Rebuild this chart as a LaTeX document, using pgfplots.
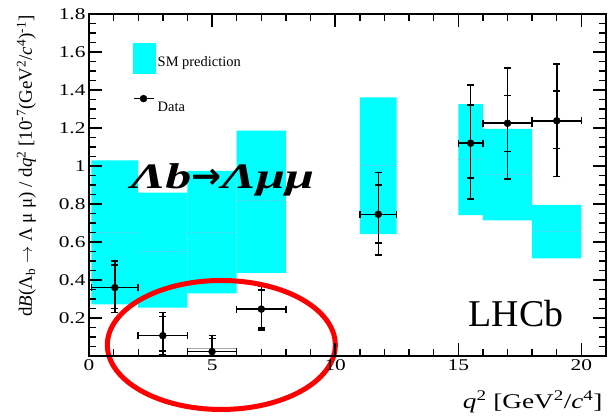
\documentclass[border=0pt]{standalone}
\usepackage{pgfplots}
\usepackage{pgfplotstable}
\pgfplotsset{compat=1.18}
\usepackage{fontspec}
\setmainfont{Liberation Serif}
\newfontfamily\stretchfont[FakeStretch=1.3]{Liberation Serif}
\newfontfamily\bigfont[FakeStretch=1.45]{Liberation Serif}
\newfontfamily\arrowfont{DejaVu Sans}

\pgfplotstableread{
x     y     xe    yp    ym    sp    sm
1.05  0.36  0.95  0.14  0.13  0.12  0.11
3.0   0.107 1     0.121 0.10  0.10  0.08
5.0   0.023 1     0.085 0.023 0.07  0.02
7.0   0.247 1     0.118 0.11  0.10  0.10
11.75 0.746 0.75  0.22  0.214 0.154 0.15
15.5  1.12  0.5   0.306 0.295 0.20  0.183
17.0  1.225 1     0.29  0.293 0.145 0.15
19.0  1.238 1     0.30  0.294 0.158 0.145
}\datatable

\pgfplotstableread{
x     y
0.1   0.649
2     0.649
nan   nan
2     0.553
4     0.553
nan   nan
4     0.649
6     0.649
nan   nan
6     0.817
8     0.817
nan   nan
11    1.005
12.5  1.005
nan   nan
15    1.035
16    1.035
nan   nan
16    0.956
18    0.956
nan   nan
18    0.658
20    0.658
}\smcentral

\definecolor{smcyan}{RGB}{0,255,255}
\definecolor{smdash}{RGB}{90,205,235}

\begin{document}
\begin{tikzpicture}
\begin{axis}[
  name=ax,
  scale only axis, width=517bp, height=342bp,
  xmin=0, xmax=21, ymin=0, ymax=1.8,
  axis on top, clip=false,
  xtick={0,5,10,15,20},
  minor xtick={0,1,...,21},
  ytick={0,0.2,0.4,0.6,0.8,1,1.2,1.4,1.6,1.8},
  yticklabels={,0.2,0.4,0.6,0.8,1,1.2,1.4,1.6,1.8},
  minor ytick={0,0.05,...,1.8},
  tick align=inside, tick pos=both,
  xticklabel pos=lower, yticklabel pos=left,
  major tick length=13bp, minor tick length=7bp,
  tick style={black, line width=1.4bp},
  axis line style={line width=1.8bp},
  /pgf/number format/assume math mode=true,
  ticklabel style={font=\stretchfont\fontsize{16.5}{16.5}\selectfont},
  xlabel={\textit{q}\textsuperscript{2} [GeV\textsuperscript{2}/\textit{c}\textsuperscript{4}]},
  xlabel style={font=\stretchfont\fontsize{21}{21}\selectfont, at={(axis description cs:1,0)}, anchor=base east, yshift=-52bp},
  ylabel={d\textit{B}(Λ\textsubscript{b} $\rightarrow$ Λ μ μ) / d\textit{q}\textsuperscript{2} [10\textsuperscript{-7}(GeV\textsuperscript{2}/\textit{c}\textsuperscript{4})\textsuperscript{-1}]},
  ylabel style={font=\fontsize{19}{19}\selectfont, at={(axis description cs:-0.121,1.006)}, anchor=east},
  legend style={draw=none, fill=none, at={(axis description cs:0.0843,0.9172)}, anchor=north west, inner sep=0pt,
    row sep=22bp, font=\fontsize{14.5}{15}\selectfont},
  legend cell align=left,
]
\addlegendimage{legend image code/.code={\fill[smcyan] (0bp,-10bp) rectangle (22bp,20bp);}}
\addlegendentry{SM prediction}
\addlegendimage{legend image code/.code={\draw[black, line width=1.5bp] (0bp,9bp) -- (20bp,9bp); \fill[black] (10bp,9bp) circle (3.5bp);}}
\addlegendentry{Data}

% SM prediction boxes
\addplot[fill=smcyan, draw=none, forget plot] coordinates {(0.1,0.272) (2,0.272) (2,1.03) (0.1,1.03) (0.1,0.272)};
\addplot[fill=smcyan, draw=none, forget plot] coordinates {(2,0.254) (4,0.254) (4,0.86) (2,0.86) (2,0.254)};
\addplot[fill=smcyan, draw=none, forget plot] coordinates {(4,0.33) (6,0.33) (6,0.974) (4,0.974) (4,0.33)};
\addplot[fill=smcyan, draw=none, forget plot] coordinates {(6,0.438) (8,0.438) (8,1.186) (6,1.186) (6,0.438)};
\addplot[fill=smcyan, draw=none, forget plot] coordinates {(11,0.642) (12.5,0.642) (12.5,1.361) (11,1.361) (11,0.642)};
\addplot[fill=smcyan, draw=none, forget plot] coordinates {(15,0.742) (16,0.742) (16,1.325) (15,1.325) (15,0.742)};
\addplot[fill=smcyan, draw=none, forget plot] coordinates {(16,0.714) (18,0.714) (18,1.195) (16,1.195) (16,0.714)};
\addplot[fill=smcyan, draw=none, forget plot] coordinates {(18,0.514) (20,0.514) (20,0.795) (18,0.795) (18,0.514)};
\addplot[smdash, line width=0.6bp, dash pattern=on 3bp off 2bp, unbounded coords=jump, forget plot] table {\smcentral};

% small grey box in 4-6 bin
\addplot[draw=gray!70, line width=0.6bp, forget plot] coordinates {(4,0.004) (6,0.004) (6,0.04) (4,0.04) (4,0.004)};

% data: total errors
\addplot[black, only marks, mark=*, mark size=3.5bp, forget plot,
  error bars/.cd, x dir=both, x explicit, y dir=both, y explicit,
  error bar style={black, line width=1.5bp, solid},
  error mark options={black, line width=1.5bp, mark size=3.5bp, rotate=90}]
  table[x=x, y=y, x error=xe, y error plus=yp, y error minus=ym] {\datatable};
% data: statistical errors (inner ticks)
\addplot[black, only marks, mark=none, forget plot,
  error bars/.cd, y dir=both, y explicit,
  error bar style={black, line width=1.5bp, solid},
  error mark options={black, line width=1.5bp, mark size=3.5bp, rotate=90}]
  table[x=x, y=y, y error plus=sp, y error minus=sm] {\datatable};

\node[font=\bigfont\bfseries\itshape\fontsize{36}{36}\selectfont, inner sep=0pt] at (axis cs:5.42,0.926) {Λb{\arrowfont\bfseries\upshape →}Λμμ};
\node[anchor=base, font=\fontsize{38}{38}\selectfont] at (axis cs:17.35,0.154) {LHCb};
\draw[red, line width=5bp] (axis cs:5.375,0.058) ellipse (114bp and 64.5bp);
\end{axis}
\pgfresetboundingbox
\path[use as bounding box] ([xshift=-89bp,yshift=-62bp]ax.south west) rectangle ([xshift=10bp,yshift=14bp]ax.north east);
\end{tikzpicture}
\end{document}
